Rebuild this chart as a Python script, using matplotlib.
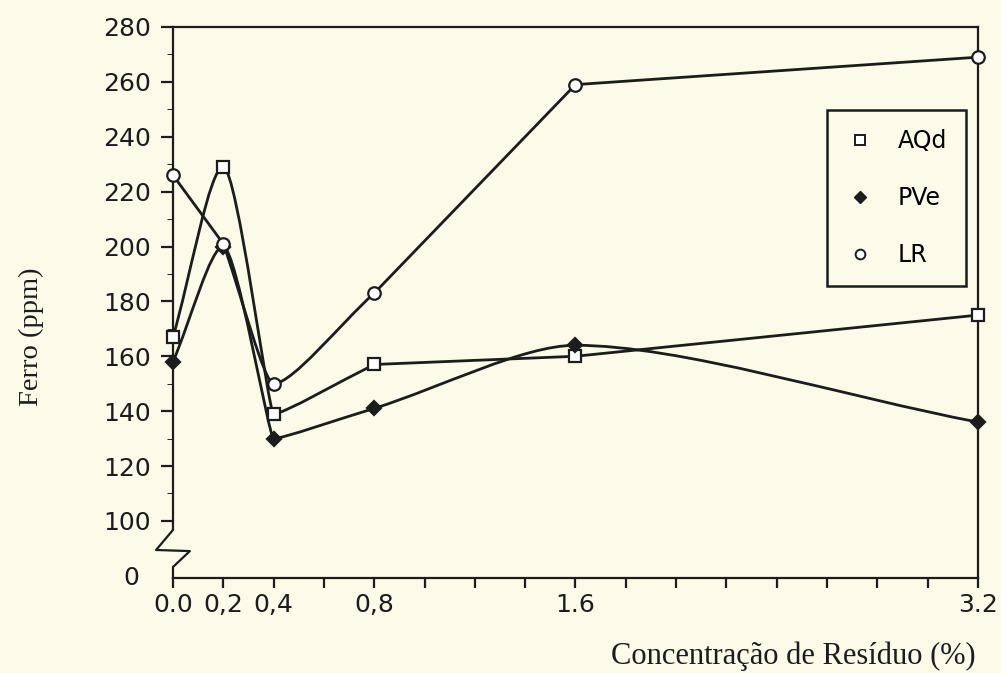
import numpy as np
import matplotlib
matplotlib.use("Agg")
import matplotlib.pyplot as plt
from matplotlib.path import Path
from matplotlib.patches import PathPatch
from matplotlib.lines import Line2D

# Dados
concentracao = [0.0, 0.2, 0.4, 0.8, 1.6, 3.2]
rotulos_x = ["0.0", "0,2", "0,4", "0,8", "1.6", "3.2"]
aqd = [167, 229, 139, 157, 160, 175]
pve = [158, 200, 130, 141, 164, 136]
lr = [226, 201, 150, 183, 259, 269]

rotulos_y = [100, 120, 140, 160, 180, 200, 220, 240, 260, 280]

fundo = "#fcfae8"
tinta = "#1c1c1c"

# posição (em unidades do eixo) onde fica o "0" depois da quebra
y_zero = 79.2


def curva_suave(x, y):
    # cada trecho é uma cúbica: reta entre os pontos, mas arredondada
    # (tangente horizontal) nos picos e vales; o arredondamento é maior
    # quando os dois lados do pico têm inclinação parecida
    x = np.asarray(x, float)
    y = np.asarray(y, float)
    n = len(x)
    h = np.diff(x)
    d = np.diff(y) / h
    braco = np.zeros(n)
    for i in range(1, n - 1):
        if d[i - 1] * d[i] < 0:
            a, b = abs(d[i - 1]), abs(d[i])
            braco[i] = np.sqrt(min(a, b) / max(a, b)) / 3
    verts = [(x[0], y[0])]
    codes = [Path.MOVETO]
    for i in range(n - 1):
        if braco[i] > 0:
            c0 = (x[i] + h[i] * braco[i], y[i])
        else:
            c0 = (x[i] + h[i] / 3, y[i] + d[i] * h[i] / 3)
        if braco[i + 1] > 0:
            c1 = (x[i + 1] - h[i] * braco[i + 1], y[i + 1])
        else:
            c1 = (x[i + 1] - h[i] / 3, y[i + 1] - d[i] * h[i] / 3)
        verts += [c0, c1, (x[i + 1], y[i + 1])]
        codes += [Path.CURVE4] * 3
    return Path(verts, codes)


fig = plt.figure(figsize=(10.01, 6.73), dpi=100, facecolor=fundo)
ax = fig.add_axes([0.1728, 0.1412, 0.8042, 0.8187])
ax.set_facecolor(fundo)

series = [
    (aqd, "s", "white", "AQd", 8.5),
    (pve, "D", tinta, "PVe", 7),
    (lr, "o", "white", "LR", 9),
]
for valores, marcador, cor_face, nome, tam in series:
    ax.add_patch(PathPatch(curva_suave(concentracao, valores), fill=False,
                           edgecolor=tinta, lw=2.0, zorder=2))
    ax.plot(concentracao, valores, linestyle="none", marker=marcador,
            markersize=tam, markerfacecolor=cor_face, markeredgecolor=tinta,
            markeredgewidth=1.6, zorder=5, clip_on=False)

ax.set_xlim(0, 3.2)
ax.set_ylim(y_zero, 280)

# eixos
for lado in ["top", "right", "bottom", "left"]:
    ax.spines[lado].set_linewidth(1.6)
    ax.spines[lado].set_color(tinta)
ax.spines["left"].set_bounds(100, 280)

# quebra do eixo y (zigue-zague)
tr = ax.get_yaxis_transform()
zx = [0, 0, -0.021, 0.021, 0, 0]
zy = [100, 96.7, 89.4, 89.0, 83.2, y_zero]
ax.plot(zx, zy, color=tinta, lw=1.6, transform=tr, clip_on=False, zorder=4)

ax.set_xticks(np.arange(0, 3.21, 0.2))
nomes = []
for v in np.arange(0, 3.21, 0.2):
    achou = ""
    for c, r in zip(concentracao, rotulos_x):
        if abs(c - v) < 1e-6:
            achou = r
    nomes.append(achou)
ax.set_xticklabels(nomes)

ax.set_yticks(rotulos_y)
ax.set_yticklabels([str(v) for v in rotulos_y])
ax.set_yticks(np.arange(110, 280, 20), minor=True)
ax.text(-0.042, y_zero, "0", transform=tr, ha="right", va="center",
        fontsize=18, color=tinta)

ax.tick_params(axis="both", direction="out", width=1.6, color=tinta,
               labelsize=18, labelcolor=tinta)
ax.tick_params(axis="y", which="major", length=9, pad=7)
ax.tick_params(axis="y", which="minor", length=4.5)
ax.tick_params(axis="x", which="major", length=7, pad=4)

fig.text(0.975, 0.025, "Concentração de Resíduo (%)", ha="right",
         va="center", fontsize=22, family="Liberation Serif", color=tinta)
fig.text(0.031, 0.5, "Ferro (ppm)", ha="center", va="center",
         rotation=90, fontsize=20.5, family="Liberation Serif", color=tinta)

# legenda
alcas = [
    Line2D([], [], linestyle="none", marker="s", markersize=6.5,
           markerfacecolor="white", markeredgecolor=tinta, markeredgewidth=1.4),
    Line2D([], [], linestyle="none", marker="D", markersize=6,
           markerfacecolor=tinta, markeredgecolor=tinta),
    Line2D([], [], linestyle="none", marker="o", markersize=7,
           markerfacecolor="white", markeredgecolor=tinta, markeredgewidth=1.4),
]
leg = ax.legend(alcas, ["AQd", "PVe", "LR"], loc="upper left",
                bbox_to_anchor=(0.812, 0.849), frameon=True, fancybox=False,
                fontsize=17, labelspacing=1.4, handletextpad=1.0,
                borderpad=0.8, borderaxespad=0, handlelength=1.2)
leg.get_frame().set_edgecolor(tinta)
leg.get_frame().set_linewidth(1.8)
leg.get_frame().set_facecolor(fundo)
leg.get_frame().set_alpha(1)

fig.savefig("out.png", dpi=100, facecolor=fundo)
